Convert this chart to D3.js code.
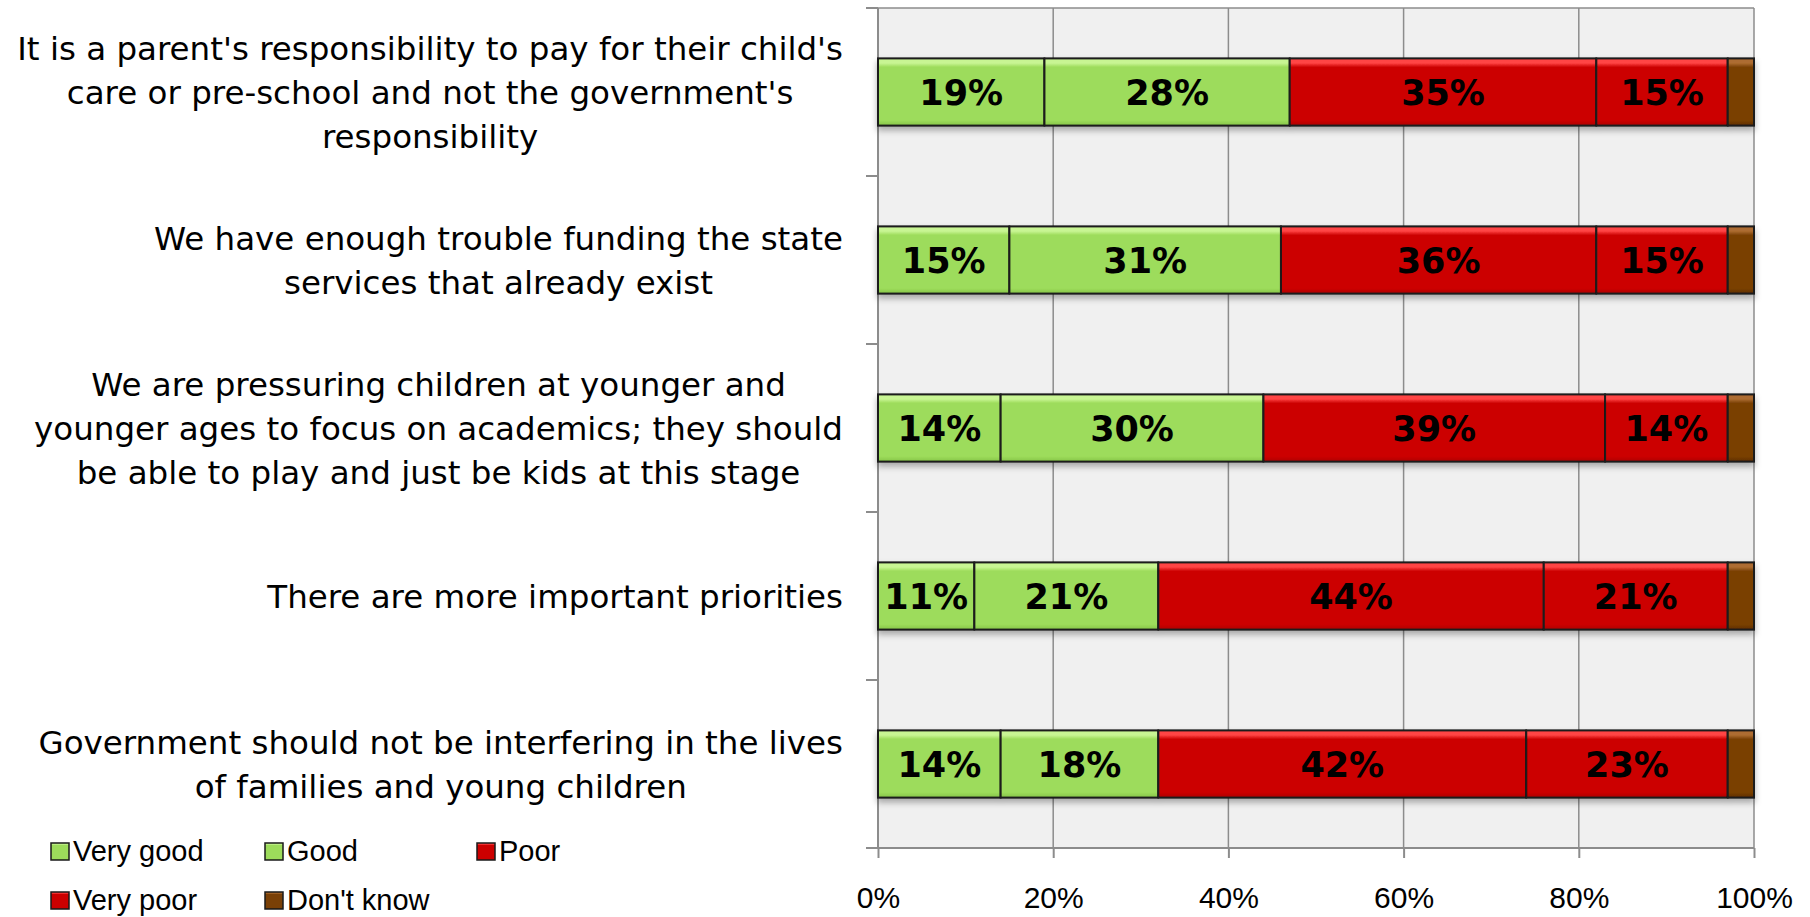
<!DOCTYPE html>
<html>
<head>
<meta charset="utf-8">
<script src="https://cdn.jsdelivr.net/npm/d3@7"></script>
<style>
  html, body { margin: 0; padding: 0; background: #ffffff; }
  svg { display: block; }
</style>
</head>
<body>
<svg id="chart" width="1810" height="917"></svg>
<script>
// ---------- DATA ----------
const categories = [
  "It is a parent's responsibility to pay for their child's\ncare or pre-school and not the government's\nresponsibility",
  "We have enough trouble funding the state\nservices that already exist",
  "We are pressuring children at younger and\nyounger ages to focus on academics; they should\nbe able to play and just be kids at this stage",
  "There are more important priorities",
  "Government should not be interfering in the lives\nof families and young children"
];
const seriesNames = ["Very good", "Good", "Poor", "Very poor", "Don't know"];
const veryGood  = [19, 15, 14, 11, 14];
const good      = [28, 31, 30, 21, 18];
const poor      = [35, 36, 39, 44, 42];
const veryPoor  = [15, 15, 14, 21, 23];
const dontKnow  = [3, 3, 3, 3, 3];
const tickValues = [0, 0.2, 0.4, 0.6, 0.8, 1.0];
const tickLabels = ["0%", "20%", "40%", "60%", "80%", "100%"];

// ---------- STYLE ----------
const seriesColors = [
  { base: "#9ddc5b", light: "#c8f593", dark: "#86c548" },
  { base: "#9ddc5b", light: "#c8f593", dark: "#86c548" },
  { base: "#cc0000", light: "#ff4444", dark: "#b00000" },
  { base: "#cc0000", light: "#ff4444", dark: "#b00000" },
  { base: "#7a4006", light: "#ad6c30", dark: "#5f3000" }
];
const showLabel = [true, true, true, true, false];

const W = 1810, H = 917;
const plot = { left: 878, right: 1754, top: 8, bottom: 848 };
const svg = d3.select("#chart");

// table built from arrays
const rows = categories.map((c, i) => ({
  cat: c,
  "Very good": veryGood[i] / 100,
  "Good": good[i] / 100,
  "Poor": poor[i] / 100,
  "Very poor": veryPoor[i] / 100,
  "Don't know": dontKnow[i] / 100
}));

const x = d3.scaleLinear().domain([0, 1]).range([plot.left, plot.right]);
const y = d3.scaleBand().domain(categories).range([plot.top, plot.bottom])
  .paddingInner(0.6).paddingOuter(0.3);

// defs
const defs = svg.append("defs");
seriesColors.forEach((c, i) => {
  const g = defs.append("linearGradient").attr("id", "grad" + i)
    .attr("x1", 0).attr("y1", 0).attr("x2", 0).attr("y2", 1);
  g.append("stop").attr("offset", "0").attr("stop-color", c.light);
  g.append("stop").attr("offset", "0.07").attr("stop-color", c.light);
  g.append("stop").attr("offset", "0.13").attr("stop-color", c.base);
  g.append("stop").attr("offset", "0.92").attr("stop-color", c.base);
  g.append("stop").attr("offset", "1").attr("stop-color", c.dark);
});
const f = defs.append("filter").attr("id", "shadow")
  .attr("x", "-5%").attr("y", "-20%").attr("width", "110%").attr("height", "160%");
f.append("feDropShadow").attr("dx", 0).attr("dy", 4).attr("stdDeviation", 3)
  .attr("flood-color", "#000").attr("flood-opacity", 0.3);

// plot background
svg.append("rect")
  .attr("x", plot.left).attr("y", plot.top)
  .attr("width", plot.right - plot.left).attr("height", plot.bottom - plot.top)
  .attr("fill", "#f0f0f0");

const gridColor = "#8c8c8c";
// vertical gridlines
svg.append("g").selectAll("line").data(tickValues.slice(1)).join("line")
  .attr("x1", d => x(d)).attr("x2", d => x(d))
  .attr("y1", plot.top).attr("y2", plot.bottom)
  .attr("stroke", gridColor).attr("stroke-width", 1.5);
// top frame
svg.append("line")
  .attr("x1", plot.left).attr("x2", plot.right)
  .attr("y1", plot.top).attr("y2", plot.top)
  .attr("stroke", gridColor).attr("stroke-width", 1.5);

// left axis (category boundaries)
const step = y.step();
const boundaries = d3.range(categories.length + 1).map(i => plot.top + i * step);
svg.append("line")
  .attr("x1", plot.left).attr("x2", plot.left)
  .attr("y1", plot.top).attr("y2", plot.bottom)
  .attr("stroke", gridColor).attr("stroke-width", 2);
svg.append("g").selectAll("line").data(boundaries).join("line")
  .attr("x1", plot.left - 12).attr("x2", plot.left)
  .attr("y1", d => d).attr("y2", d => d)
  .attr("stroke", gridColor).attr("stroke-width", 2);

// bottom axis
const xAxis = d3.axisBottom(x).tickValues(tickValues)
  .tickFormat((d, i) => tickLabels[i]).tickSize(10).tickSizeOuter(0).tickPadding(29);
const gx = svg.append("g").attr("transform", `translate(0,${plot.bottom})`).call(xAxis);
gx.select(".domain").attr("stroke", gridColor).attr("stroke-width", 2)
  .attr("d", `M${plot.left - 12},0H${plot.right}`);
gx.selectAll(".tick line").attr("stroke", gridColor).attr("stroke-width", 2);
gx.selectAll(".tick text")
  .attr("fill", "#000")
  .style("font-family", "'Liberation Sans', Arial, sans-serif")
  .style("font-size", "30px");

// stacked bars
const stack = d3.stack().keys(seriesNames);
const stacked = stack(rows);

const barsG = svg.append("g");
const rowGroups = barsG.selectAll("g.bar").data(rows).join("g")
  .attr("class", "bar").attr("filter", "url(#shadow)");

stacked.forEach((layer, si) => {
  layer.forEach((seg, ri) => {
    rowGroups.filter((d, i) => i === ri).append("rect")
      .attr("x", x(seg[0]))
      .attr("y", y(rows[ri].cat))
      .attr("width", x(seg[1]) - x(seg[0]))
      .attr("height", y.bandwidth())
      .attr("fill", `url(#grad${si})`)
      .attr("stroke", "#1a1a1a").attr("stroke-width", 2);
  });
});

// bar labels
const labelsG = svg.append("g");
stacked.forEach((layer, si) => {
  if (!showLabel[si]) return;
  layer.forEach((seg, ri) => {
    const v = seg[1] - seg[0];
    labelsG.append("text")
      .attr("x", (x(seg[0]) + x(seg[1])) / 2)
      .attr("y", y(rows[ri].cat) + y.bandwidth() / 2 + 13)
      .attr("text-anchor", "middle")
      .style("font-family", "'DejaVu Sans', Verdana, sans-serif")
      .style("font-weight", "bold")
      .style("font-size", "35px")
      .attr("fill", "#000")
      .text(d3.format(".0%")(v));
  });
});

// category labels
const catG = svg.append("g");
categories.forEach(c => {
  const lines = c.split("\n");
  const cy = y(c) + y.bandwidth() / 2;
  const lh = 44;
  const t = catG.append("text")
    .attr("text-anchor", "middle")
    .style("font-family", "'DejaVu Sans', Verdana, sans-serif")
    .style("font-size", "32.5px")
    .attr("fill", "#000");
  lines.forEach((ln, i) => {
    t.append("tspan")
      .attr("y", cy + 12 + (i - (lines.length - 1) / 2) * lh)
      .text(ln);
  });
  const widths = [];
  t.selectAll("tspan").each(function () { widths.push(this.getComputedTextLength()); });
  const maxW = d3.max(widths);
  const cx = 843 - maxW / 2;
  t.selectAll("tspan").attr("x", cx);
});

// legend
const legendItems = [
  { name: seriesNames[0], ci: 0, x: 51, y: 861 },
  { name: seriesNames[1], ci: 1, x: 265, y: 861 },
  { name: seriesNames[2], ci: 2, x: 477, y: 861 },
  { name: seriesNames[3], ci: 3, x: 51, y: 910 },
  { name: seriesNames[4], ci: 4, x: 265, y: 910 }
];
const lg = svg.append("g");
legendItems.forEach(it => {
  lg.append("rect")
    .attr("x", it.x).attr("y", it.y - 18)
    .attr("width", 18).attr("height", 17)
    .attr("fill", `url(#grad${it.ci})`)
    .attr("stroke", "#1a1a1a").attr("stroke-width", 1.5);
  lg.append("text")
    .attr("x", it.x + 22).attr("y", it.y)
    .style("font-family", "'Liberation Sans', Arial, sans-serif")
    .style("font-size", "29px")
    .attr("fill", "#000")
    .text(it.name);
});
</script>
</body>
</html>
